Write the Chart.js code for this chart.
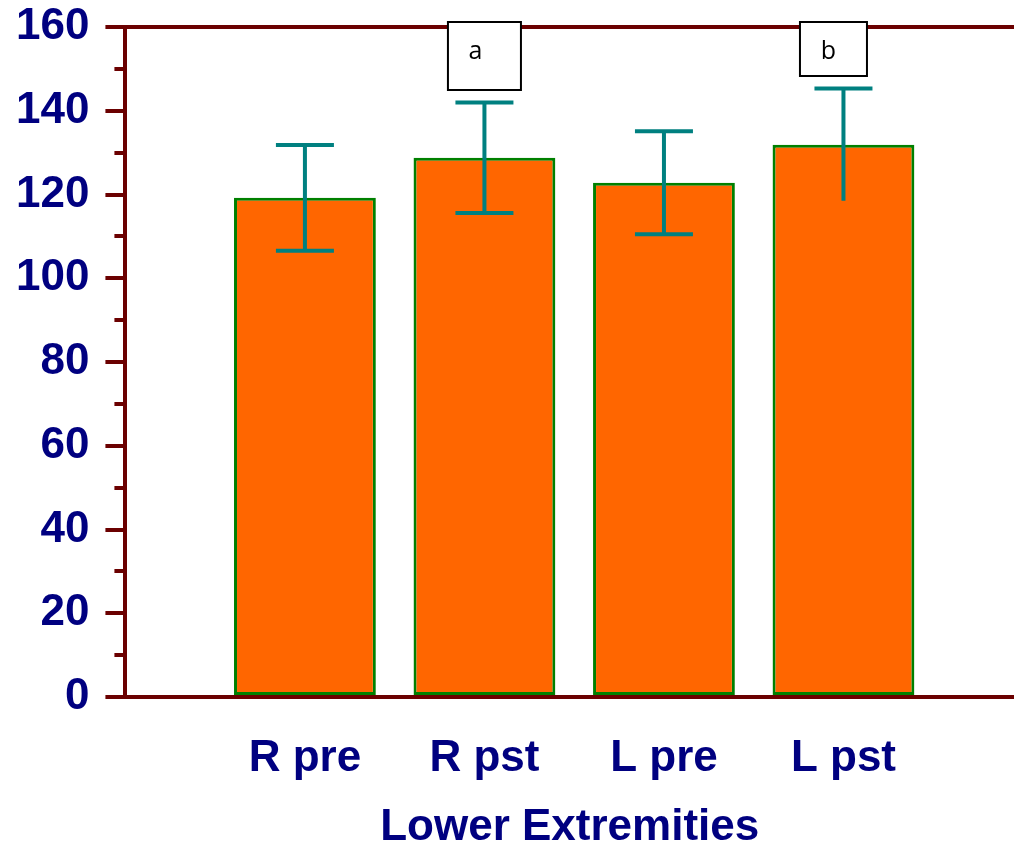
<!DOCTYPE html>
<html>
<head>
<meta charset="utf-8">
<script src="https://cdn.jsdelivr.net/npm/chart.js@4/dist/chart.umd.min.js"></script>
<style>
  html, body { margin: 0; padding: 0; background: #fff; }
  #wrap { width: 1014px; height: 844px; }
</style>
</head>
<body>
<div id="wrap"><canvas id="barChart"></canvas></div>
<script>
// chart values
var categories = ['R pre', 'R pst', 'L pre', 'L pst'];
var means = [119.2, 128.8, 122.8, 131.9];
var sds = [12.6, 13.2, 12.3, 13.4];
var letters = ['', 'a', '', 'b'];
var yTicks = [0, 20, 40, 60, 80, 100, 120, 140, 160];

var axisRed = '#6b0000';
var navy = '#000080';
var teal = '#008080';
var bigFont = 'Arial, "Liberation Sans", sans-serif';

var points = categories.map(function (c, i) { return { x: i + 1, y: means[i] }; });

// minor ticks half way between the labelled ones
var minorTicks = {
    id: 'minorTicks',
    afterDraw: function (chart) {
        var y = chart.scales.y, ctx = chart.ctx;
        ctx.save();
        ctx.strokeStyle = axisRed;
        ctx.lineWidth = 4;
        for (var i = 0; i < yTicks.length - 1; i++) {
            var py = Math.round(y.getPixelForValue((yTicks[i] + yTicks[i + 1]) / 2));
            ctx.beginPath();
            ctx.moveTo(y.right - 11, py);
            ctx.lineTo(y.right, py);
            ctx.stroke();
        }
        ctx.restore();
    }
};

// error bars (mean +/- sd)
var errorBars = {
    id: 'errorBars',
    afterDatasetsDraw: function (chart) {
        var meta = chart.getDatasetMeta(0), y = chart.scales.y, ctx = chart.ctx;
        ctx.save();
        ctx.strokeStyle = teal;
        ctx.lineWidth = 4;
        meta.data.forEach(function (bar, i) {
            var hi = y.getPixelForValue(means[i] + sds[i]);
            var lo = y.getPixelForValue(means[i] - sds[i]);
            ctx.beginPath();
            ctx.moveTo(bar.x, hi);
            ctx.lineTo(bar.x, lo);
            ctx.moveTo(bar.x - 29, hi);
            ctx.lineTo(bar.x + 29, hi);
            if (i !== 3) {
                ctx.moveTo(bar.x - 29, lo);
                ctx.lineTo(bar.x + 29, lo);
            }
            ctx.stroke();
        });
        ctx.restore();
    }
};

// little boxed letters at the top
var letterBoxes = {
    id: 'letterBoxes',
    afterDraw: function (chart) {
        var meta = chart.getDatasetMeta(0), ctx = chart.ctx, top = chart.chartArea.top;
        var sizes = [null, { w: 73, h: 68, dx: 0, tx: -9 }, null, { w: 67, h: 54, dx: -10, tx: -5 }];
        ctx.save();
        letters.forEach(function (t, i) {
            if (!t) return;
            var s = sizes[i];
            var cx = meta.data[i].x + s.dx;
            var x0 = cx - s.w / 2, y0 = top - 5;
            ctx.fillStyle = '#fff';
            ctx.fillRect(x0, y0, s.w, s.h);
            ctx.strokeStyle = '#000';
            ctx.lineWidth = 2;
            ctx.strokeRect(x0, y0, s.w, s.h);
            ctx.fillStyle = '#000';
            ctx.font = '25px "Open Sans", sans-serif';
            ctx.textAlign = 'center';
            ctx.textBaseline = 'middle';
            ctx.fillText(t, cx + s.tx, y0 + 30);
        });
        ctx.restore();
    }
};

var ctx = document.getElementById('barChart').getContext('2d');
var chart = new Chart(ctx, {
    type: 'bar',
    data: {
        datasets: [{
            data: points,
            backgroundColor: '#ff6600',
            borderColor: '#008000',
            borderWidth: 3,
            borderSkipped: false,
            barPercentage: 0.79,
            categoryPercentage: 1
        }]
    },
    options: {
        responsive: true,
        maintainAspectRatio: false,
        animation: false,
        layout: { padding: { left: 0, right: 0, top: 0, bottom: 0 } },
        plugins: {
            legend: { display: false },
            tooltip: { enabled: false }
        },
        scales: {
            x: {
                type: 'linear',
                offset: false,
                min: 0,
                max: 4.95,
                afterBuildTicks: function (scale) {
                    scale.ticks = categories.map(function (c, i) { return { value: i + 1 }; });
                },
                ticks: {
                    callback: function (v) { return categories[v - 1]; },
                    color: navy,
                    font: { family: bigFont, size: 44, weight: 'bold' },
                    padding: 27,
                    maxRotation: 0
                },
                grid: { display: false, offset: false },
                border: { display: false },
                title: {
                    display: true,
                    text: 'Lower Extremities',
                    color: navy,
                    font: { family: bigFont, size: 44, weight: 'bold', lineHeight: 0.73 },
                    padding: { top: 0, bottom: 0 }
                }
            },
            y: {
                min: 0,
                max: 160,
                afterBuildTicks: function (scale) {
                    scale.ticks = yTicks.map(function (v) { return { value: v }; });
                },
                ticks: {
                    color: navy,
                    font: { family: bigFont, size: 44, weight: 'bold', lineHeight: 0.5 },
                    padding: 16
                },
                grid: {
                    drawOnChartArea: true,
                    tickLength: 20,
                    lineWidth: 4,
                    color: function (c) {
                        return (c.tick && (c.tick.value === 0 || c.tick.value === 160)) ? axisRed : 'rgba(0,0,0,0)';
                    },
                    tickColor: axisRed
                },
                border: { display: true, color: axisRed, width: 4 }
            }
        }
    },
    plugins: [minorTicks, errorBars, letterBoxes]
});
</script>
</body>
</html>
